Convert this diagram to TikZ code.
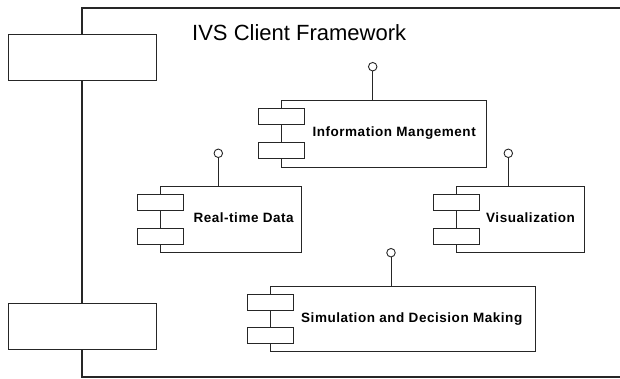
\documentclass[tikz,border=0pt]{standalone}
\usepackage{fontspec}
\setmainfont{Liberation Sans}
\newfontfamily\lblfont[LetterSpace=4]{Liberation Sans}
\begin{document}
\begin{tikzpicture}[x=1pt,y=-1pt,
  ln/.style={draw=black!85,line width=0.9pt},
  comp/.style={ln,rectangle,fill=white,inner sep=0pt},
  port/.style={ln,rectangle,fill=white,inner sep=0pt,minimum width=46pt,minimum height=16pt},
  lolli/.style={ln,circle,fill=white,inner sep=0pt,minimum size=8.5pt},
  lbl/.style={inner sep=0pt,anchor=base west,font=\lblfont\fontsize{13.5}{16}\selectfont\bfseries},
  side/.style={ln,rectangle,fill=white,inner sep=0pt,minimum width=148pt,minimum height=46pt}]
\useasboundingbox (0,0) rectangle (620,379);
% framework outline
\coordinate (ftr) at (621,8);
\coordinate (ftl) at (82,8);
\coordinate (fbl) at (82,377);
\coordinate (fbr) at (621,377);
\draw[ln,line width=1.1pt] (ftr) -- (ftl) -- (fbl) -- (fbr);
\node[side] (p1) at (82,57) {};
\node[side] (p2) at (82,326) {};
\node[inner sep=0pt,anchor=base west,font=\fontsize{22}{26}\selectfont] (title) at (192,41) {IVS Client Framework};
% components
\node[comp,minimum width=205pt,minimum height=67pt] (info) at (384.2,133.5) {};
\node[comp,minimum width=140.3pt,minimum height=66pt] (rtd) at (230.85,219.7) {};
\node[comp,minimum width=127.6pt,minimum height=66pt] (vis) at (520.5,219.7) {};
\node[comp,minimum width=264.3pt,minimum height=65.7pt] (sim) at (402.85,318.85) {};
% ports
\foreach \c in {info,rtd,vis,sim}{
  \node[port] (\c-a) at ([yshift=-16.5pt]\c.north west) {};
  \node[port] (\c-b) at ([yshift=16.5pt]\c.south west) {};
}
% lollipops
\node[lolli] (info-i) at (372.7,66.7) {};
\node[lolli] (rtd-i) at (218.3,153.3) {};
\node[lolli] (vis-i) at (508.3,153.3) {};
\node[lolli] (sim-i) at (391,252.7) {};
\draw[ln] (info-i) -- (info-i |- info.north);
\draw[ln] (rtd-i) -- (rtd-i |- rtd.north);
\draw[ln] (vis-i) -- (vis-i |- vis.north);
\draw[ln] (sim-i) -- (sim-i |- sim.north);
% labels
\node[lbl] (info-t) at (312.3,137) {Information Mangement};
\node[lbl] (rtd-t) at (193.3,222.3) {Real-time Data};
\node[lbl] (vis-t) at (486,222.5) {Visualization};
\node[lbl] (sim-t) at (301,322.7) {Simulation and Decision Making};
\end{tikzpicture}
\end{document}
